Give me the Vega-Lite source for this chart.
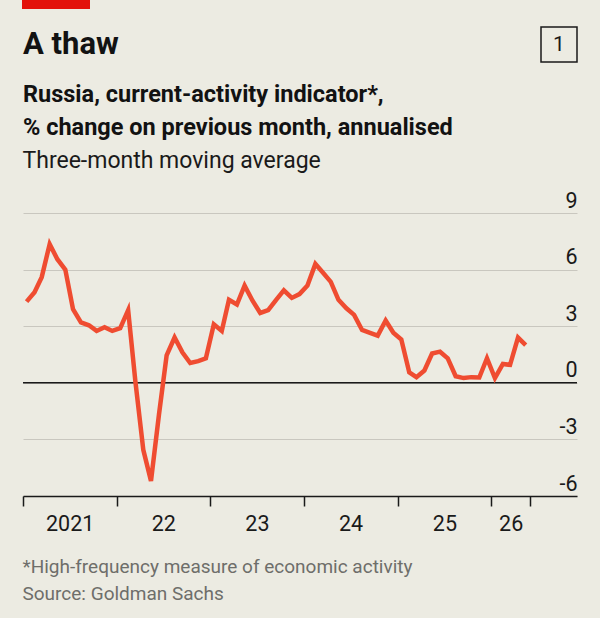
{
  "$schema": "https://vega.github.io/schema/vega-lite/v6.json",
  "width": 554,
  "height": 283,
  "autosize": {"type": "none"},
  "padding": {"left": 23, "top": 213, "right": 23, "bottom": 122},
  "background": "#ecebe2",
  "config": {"view": {"stroke": null}, "font": "Roboto"},
  "title": {
    "text": "A thaw",
    "subtitle": ["Russia, current-activity indicator*,", "% change on previous month, annualised"],
    "anchor": "start",
    "frame": "group",
    "orient": "top",
    "offset": -140,
    "font": "Roboto",
    "fontSize": 31,
    "fontWeight": "bold",
    "color": "#121212",
    "subtitleFont": "Roboto",
    "subtitleFontSize": 23.5,
    "subtitleFontWeight": "bold",
    "subtitleColor": "#121212",
    "subtitleLineHeight": 33,
    "subtitlePadding": 22
  },
  "layer": [
    {
      "data": {"values": [{}]},
      "mark": {"type": "rect", "color": "#e3120b"},
      "encoding": {"x": {"value": -1}, "x2": {"value": 67}, "y": {"value": -213}, "y2": {"value": -204}}
    },
    {
      "data": {"values": [{}]},
      "mark": {"type": "rect", "fillOpacity": 0, "stroke": "#1a1a1a", "strokeWidth": 1.5},
      "encoding": {"x": {"value": 518}, "x2": {"value": 554}, "y": {"value": -186}, "y2": {"value": -151}}
    },
    {
      "data": {"values": [{"n": "1"}]},
      "mark": {"type": "text", "font": "Roboto", "fontSize": 21, "color": "#1a1a1a", "align": "center", "baseline": "middle"},
      "encoding": {"text": {"field": "n"}, "x": {"value": 536}, "y": {"value": -168}}
    },
    {
      "data": {"values": [{}]},
      "mark": {"type": "rule", "color": "#1a1a1a", "strokeWidth": 1.5},
      "encoding": {"y": {"datum": 0, "type": "quantitative"}}
    },
    {
      "data": {
        "values": [
          {"date": "2021-01-15", "value": 4.3},
          {"date": "2021-02-15", "value": 4.8},
          {"date": "2021-03-15", "value": 5.6},
          {"date": "2021-04-15", "value": 7.35},
          {"date": "2021-05-15", "value": 6.55},
          {"date": "2021-06-15", "value": 6.0},
          {"date": "2021-07-15", "value": 3.9},
          {"date": "2021-08-15", "value": 3.2},
          {"date": "2021-09-15", "value": 3.05},
          {"date": "2021-10-15", "value": 2.75},
          {"date": "2021-11-15", "value": 2.95},
          {"date": "2021-12-15", "value": 2.75},
          {"date": "2022-01-15", "value": 2.9},
          {"date": "2022-02-15", "value": 3.85},
          {"date": "2022-03-15", "value": 0.1},
          {"date": "2022-04-15", "value": -3.55},
          {"date": "2022-05-15", "value": -5.2},
          {"date": "2022-06-15", "value": -1.7},
          {"date": "2022-07-15", "value": 1.45},
          {"date": "2022-08-15", "value": 2.4},
          {"date": "2022-09-15", "value": 1.6},
          {"date": "2022-10-15", "value": 1.05},
          {"date": "2022-11-15", "value": 1.15},
          {"date": "2022-12-15", "value": 1.3},
          {"date": "2023-01-15", "value": 3.1},
          {"date": "2023-02-15", "value": 2.75},
          {"date": "2023-03-15", "value": 4.4},
          {"date": "2023-04-15", "value": 4.15},
          {"date": "2023-05-15", "value": 5.15},
          {"date": "2023-06-15", "value": 4.35},
          {"date": "2023-07-15", "value": 3.7},
          {"date": "2023-08-15", "value": 3.85},
          {"date": "2023-09-15", "value": 4.4},
          {"date": "2023-10-15", "value": 4.9},
          {"date": "2023-11-15", "value": 4.5},
          {"date": "2023-12-15", "value": 4.7},
          {"date": "2024-01-15", "value": 5.15},
          {"date": "2024-02-15", "value": 6.3},
          {"date": "2024-03-15", "value": 5.85},
          {"date": "2024-04-15", "value": 5.35},
          {"date": "2024-05-15", "value": 4.4},
          {"date": "2024-06-15", "value": 3.95},
          {"date": "2024-07-15", "value": 3.6},
          {"date": "2024-08-15", "value": 2.8},
          {"date": "2024-09-15", "value": 2.65},
          {"date": "2024-10-15", "value": 2.5},
          {"date": "2024-11-15", "value": 3.3},
          {"date": "2024-12-15", "value": 2.65},
          {"date": "2025-01-15", "value": 2.3},
          {"date": "2025-02-15", "value": 0.55},
          {"date": "2025-03-15", "value": 0.3},
          {"date": "2025-04-15", "value": 0.65},
          {"date": "2025-05-15", "value": 1.55},
          {"date": "2025-06-15", "value": 1.65},
          {"date": "2025-07-15", "value": 1.3},
          {"date": "2025-08-15", "value": 0.35},
          {"date": "2025-09-15", "value": 0.25},
          {"date": "2025-10-15", "value": 0.3},
          {"date": "2025-11-15", "value": 0.28},
          {"date": "2025-12-15", "value": 1.3},
          {"date": "2026-01-15", "value": 0.25},
          {"date": "2026-02-15", "value": 1.0},
          {"date": "2026-03-15", "value": 0.95},
          {"date": "2026-04-15", "value": 2.4},
          {"date": "2026-05-15", "value": 2.0}
        ]
      },
      "mark": {"type": "line", "color": "#ef4c31", "strokeWidth": 4.5},
      "encoding": {
        "x": {
          "field": "date",
          "type": "temporal",
          "scale": {
            "type": "utc",
            "domain": [
              {"year": 2021, "month": 1, "date": 1, "utc": true},
              {"year": 2026, "month": 12, "date": 1, "utc": true}
            ]
          },
          "axis": {
            "values": [
              {"year": 2021, "month": 1, "date": 1, "utc": true},
              {"year": 2022, "month": 1, "date": 1, "utc": true},
              {"year": 2023, "month": 1, "date": 1, "utc": true},
              {"year": 2024, "month": 1, "date": 1, "utc": true},
              {"year": 2025, "month": 1, "date": 1, "utc": true},
              {"year": 2026, "month": 1, "date": 1, "utc": true},
              {"year": 2026, "month": 6, "date": 1, "utc": true}
            ],
            "grid": false,
            "domainColor": "#1a1a1a",
            "domainWidth": 1.5,
            "tickColor": "#1a1a1a",
            "tickWidth": 1.5,
            "tickSize": 10,
            "labelExpr": "utcmonth(datum.value) == 5 ? '' : (utcyear(datum.value) == 2021 ? '2021' : substring(toString(utcyear(datum.value)), 2))",
            "labelOffset": {"condition": {"test": "utcyear(datum.value) == 2026", "value": 19.3}, "value": 46.7},
            "labelAlign": "center",
            "labelBaseline": "top",
            "labelPadding": 7,
            "labelFont": "Roboto",
            "labelFontSize": 21.5,
            "labelColor": "#1a1a1a",
            "labelOverlap": false,
            "labelFlush": false,
            "labelBound": false,
            "title": ["*High-frequency measure of economic activity", "Source: Goldman Sachs"],
            "titleFont": "Roboto",
            "titleFontSize": 19,
            "titleFontWeight": "normal",
            "titleColor": "#6e6e6a",
            "titleAlign": "left",
            "titleBaseline": "alphabetic",
            "titleAngle": 0,
            "titleX": -1,
            "titleY": 76,
            "titleLineHeight": 27
          }
        },
        "y": {
          "field": "value",
          "type": "quantitative",
          "scale": {"domain": [-6, 9], "nice": false, "zero": false},
          "axis": {
            "orient": "right",
            "values": [-6, -3, 0, 3, 6, 9],
            "grid": true,
            "gridColor": "#c9c7bf",
            "gridWidth": 1.2,
            "domain": false,
            "ticks": false,
            "tickSize": 0,
            "labelExpr": "toString(datum.value)",
            "labelAlign": "right",
            "labelBaseline": "alphabetic",
            "labelPadding": 0,
            "labelOffset": -6,
            "labelFont": "Roboto",
            "labelFontSize": 21.5,
            "labelColor": "#1a1a1a",
            "labelFlush": false,
            "labelOverlap": false,
            "title": "Three-month moving average",
            "titleFont": "Roboto",
            "titleFontSize": 23,
            "titleFontWeight": "normal",
            "titleColor": "#1a1a1a",
            "titleAngle": 0,
            "titleAlign": "left",
            "titleBaseline": "alphabetic",
            "titleX": -555,
            "titleY": -46
          }
        }
      }
    }
  ]
}
